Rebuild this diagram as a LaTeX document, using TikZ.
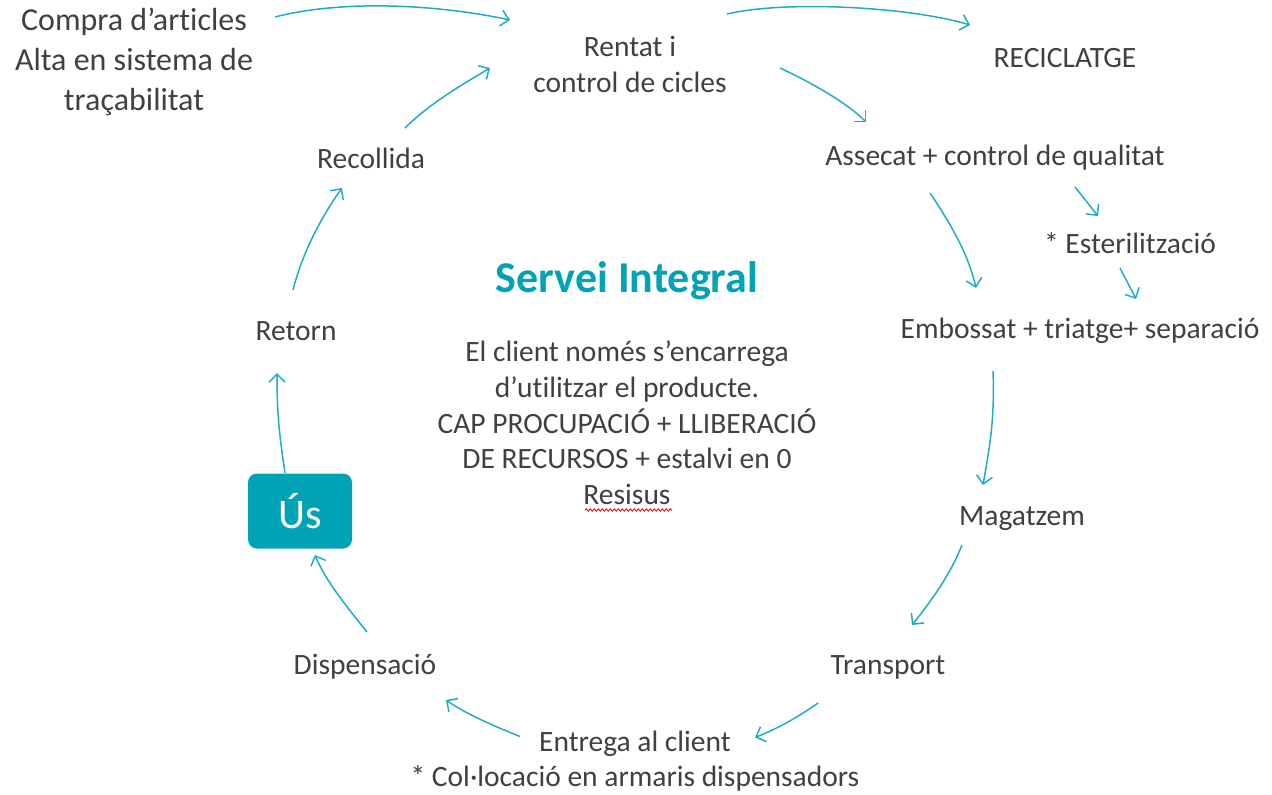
\documentclass[tikz,border=0pt]{standalone}
\usepackage{fontspec}
\setmainfont{Carlito}[Ligatures={NoCommon}]
\usetikzlibrary{arrows.meta,decorations.pathmorphing}
\definecolor{txt}{HTML}{404040}
\definecolor{teal1}{HTML}{1FAEC1}
\definecolor{tealbox}{HTML}{00A3B6}
\begin{document}
\begin{tikzpicture}[x=1pt,y=-1pt,
  lbl/.style={text=txt,font=\fontsize{29.5}{36}\selectfont,align=center,inner sep=0pt},
  arr/.style={draw=teal1,line width=1.5pt,-{Straight Barb[length=8pt,width=16pt,line width=1.5pt]}}]
\useasboundingbox (0,0) rectangle (1272,795);
\node[lbl,font=\fontsize{32}{40}\selectfont] (compra) at (134,62) {Compra d’articles\\Alta en sistema de\\traçabilitat};
\node[lbl] (rentat) at (630,64) {Rentat i\\control de cicles};
\node[lbl] (recic) at (1065,58) {RECICLATGE};
\node[lbl] (assecat) at (995,158) {Assecat + control de qualitat};
\node[lbl] (ester) at (1130,243) {* Esterilització};
\node[lbl] (emboss) at (1080,331) {Embossat + triatge+ separació};
\node[lbl] (magatzem) at (1022,519) {Magatzem};
\node[lbl] (transport) at (888,667) {Transport};
\node[lbl,font=\fontsize{29.5}{35}\selectfont] (entrega) at (635,761.5) {Entrega al client\\* Col·locació en armaris dispensadors};
\node[lbl] (dispens) at (365,667) {Dispensació};
\node[fill=tealbox,rounded corners=9pt,minimum width=104pt,minimum height=75pt,text=white,font=\fontsize{42}{42}\selectfont,inner sep=0pt] (us) at (300,511) {Ús};
\node[lbl] (retorn) at (296,331) {Retorn};
\node[lbl] (recollida) at (371,158) {Recollida};
\node[text=tealbox,font=\bfseries\fontsize{44}{50}\selectfont,inner sep=0pt] (title) at (627,281) {Servei Integral};
\node[lbl,font=\fontsize{29.5}{35.7}\selectfont] (para) at (627,423) {El client només s’encarrega\\d’utilitzar el producte.\\CAP PROCUPACIÓ + LLIBERACIÓ\\DE RECURSOS + estalvi en 0\\Resisus};
\coordinate (wavyA) at (585,510);
\coordinate (wavyB) at (672,510);
\draw[red!85!black,line width=0.8pt,decorate,decoration={snake,amplitude=1.2pt,segment length=4pt}] (wavyA) -- (wavyB);
% arrows
\draw[arr] ([shift={(141,-45)}]compra.center) .. controls +(70,-18) and +(-70,-15) .. ([shift={(-120,-44)}]rentat.center);
\draw[arr] ([shift={(97,-50)}]rentat.center) .. controls +(60,-14) and +(-60,-18) .. ([shift={(-95,-33)}]recic.center);
\draw[arr] ([shift={(150,4)}]rentat.center) .. controls +(30,14) and +(-20,-20) .. ([shift={(-129,-36)}]assecat.center);
\draw[arr] ([shift={(80,29)}]assecat.center) .. controls +(8,10) and +(-8,-10) .. ([shift={(-32,-27)}]ester.center);
\draw[arr] ([shift={(-10,25)}]ester.center) .. controls +(5,10) and +(-5,-10) .. ([shift={(56,-32)}]emboss.center);
\draw[arr] ([shift={(-65,35)}]assecat.center) .. controls +(20,30) and +(-8,-35) .. ([shift={(-104,-43)}]emboss.center);
\draw[arr] ([shift={(-87,40)}]emboss.center) .. controls +(2,50) and +(6,-35) .. ([shift={(-39,-34)}]magatzem.center);
\draw[arr] ([shift={(-60,26)}]magatzem.center) .. controls +(-12,30) and +(20,-25) .. ([shift={(24,-42)}]transport.center);
\draw[arr] ([shift={(-70,36)}]transport.center) .. controls +(-20,14) and +(25,-10) .. ([shift={(120,-24)}]entrega.center);
\draw[arr] ([shift={(-115,-25)}]entrega.center) .. controls +(-25,-10) and +(20,14) .. ([shift={(81,33)}]dispens.center);
\draw[arr] ([shift={(2,-35)}]dispens.center) .. controls +(-20,-25) and +(10,25) .. ([shift={(15,44)}]us.center);
\draw[arr] ([shift={(-15,-38)}]us.center) .. controls +(-6,-40) and +(0,40) .. ([shift={(-19,42)}]retorn.center);
\draw[arr] ([shift={(-3,-41)}]retorn.center) .. controls +(10,-40) and +(-18,25) .. ([shift={(-29,30)}]recollida.center);
\draw[arr] ([shift={(34,-30)}]recollida.center) .. controls +(25,-25) and +(-25,15) .. ([shift={(-140,4)}]rentat.center);
\end{tikzpicture}
\end{document}
